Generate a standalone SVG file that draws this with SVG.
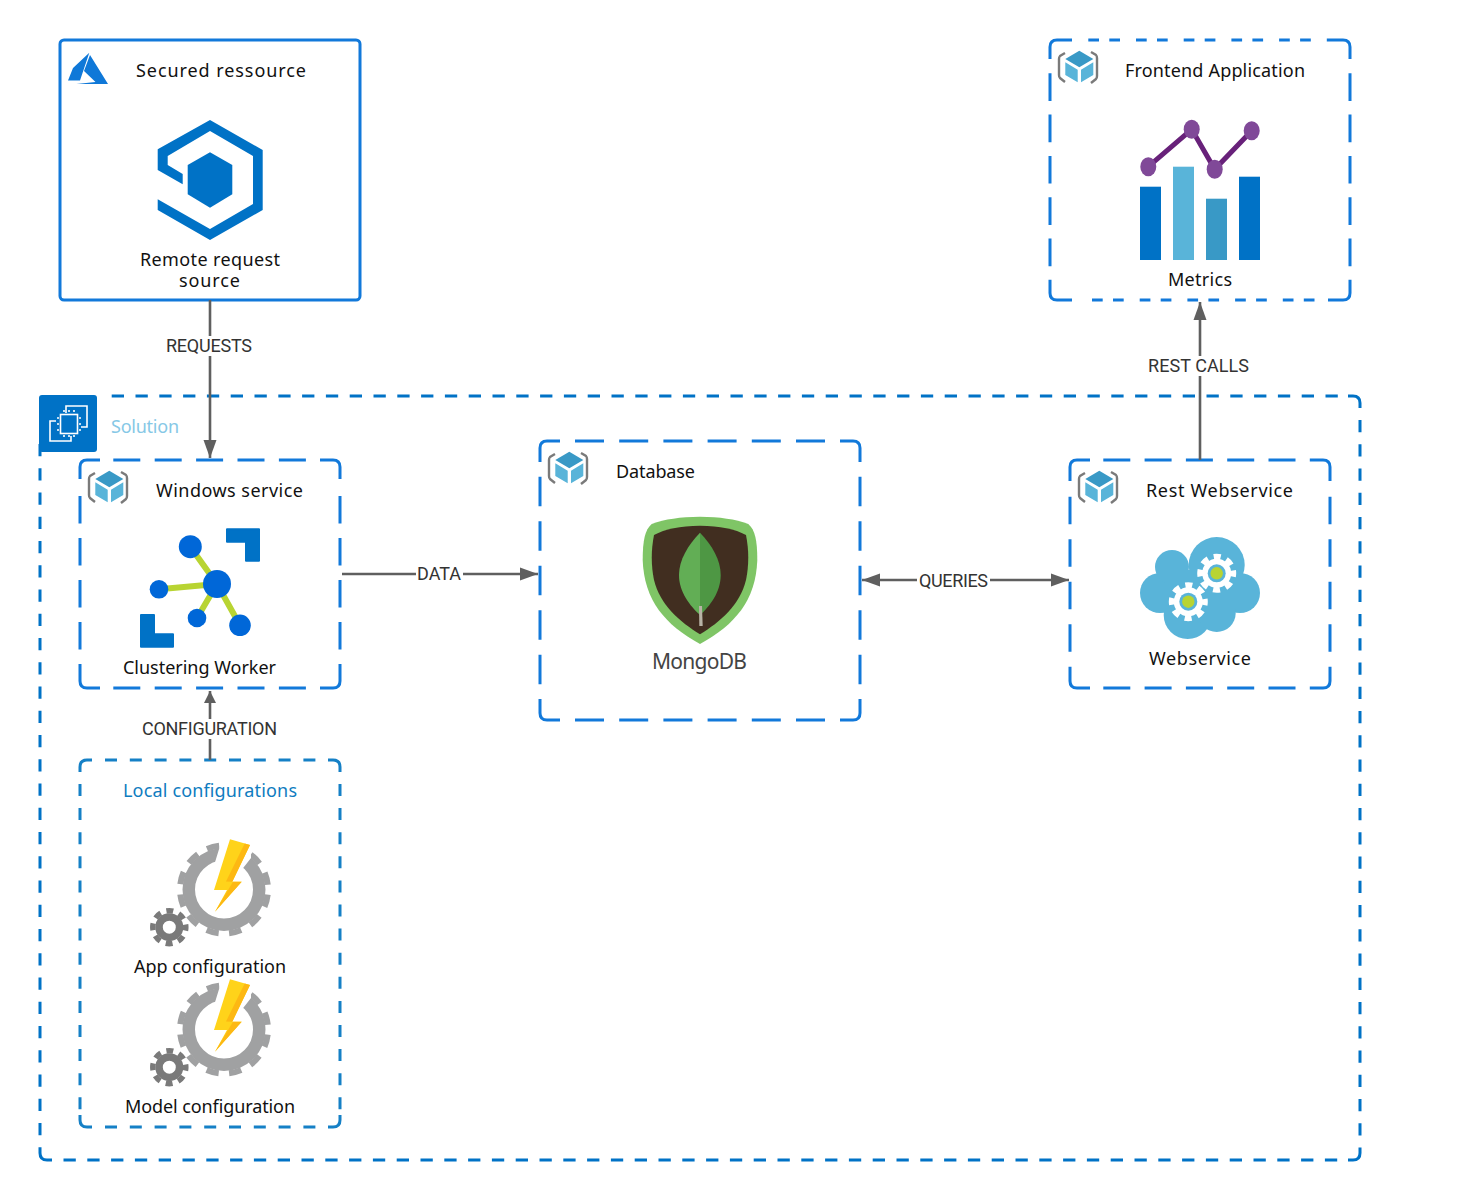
<svg xmlns="http://www.w3.org/2000/svg" width="1471" height="1200" viewBox="0 0 1471 1200">
<style>
.frame{fill:none;stroke:#1279da;stroke-width:3}
.outer{stroke:#0072c6}
.loc{stroke:#1580c6}
.t{font-family:"Noto Sans","Liberation Sans",sans-serif;font-size:18px;fill:#111}
.e{font-family:"Roboto","Liberation Sans",sans-serif;font-size:18px;fill:#333}
.c{fill:none;stroke:#5f5f5f;stroke-width:2.6}
.b{fill:#0072c6}
.lb{fill:#fff}
</style>
<defs>
<marker id="arr" markerUnits="userSpaceOnUse" markerWidth="20" markerHeight="16" refX="18" refY="8" orient="auto-start-reverse"><path d="M0 1.500L18 8L0 14.500Z" fill="#5f5f5f"/></marker>
<marker id="arrs" markerUnits="userSpaceOnUse" markerWidth="14" markerHeight="14" refX="12" refY="7" orient="auto-start-reverse"><path d="M0 1L12 7L0 13Z" fill="#5f5f5f"/></marker>
<g id="cube">
<path d="M7 2L2 5Q1 6 1 8V24Q1 26 2 27L7 31M33 1L38 4Q39 5 39 7V25Q39 27 38 28L33 32" fill="none" stroke="#7a7a7a" stroke-width="2.400"/>
<path d="M21.300 -.3L35.300 8L21.300 16.300L7.300 8Z" fill="#3999c6"/>
<path d="M7.300 11.300L19.700 18.700V31.300L7.300 24ZM23 18.700L35.300 11.300V24L23 31.300Z" fill="#59b4d9"/>
</g>
<g id="wgear">
<circle r="14.500" fill="#fff"/>
<circle r="16.500" fill="none" stroke="#fff" stroke-width="6" stroke-dasharray="7 5.960" stroke-dashoffset="3.500"/>
<circle r="9" fill="#59b4d9"/>
<circle r="6.200" fill="#b8d432"/>
</g>
<g id="config">
<circle cx="224" cy="889.500" r="35.250" fill="none" stroke="#a0a1a2" stroke-width="12.500"/>
<circle cx="224" cy="889.500" r="44" fill="none" stroke="#a0a1a2" stroke-width="6" stroke-dasharray="12.500 10.540" stroke-dashoffset="-5.270"/>
<path d="M220 846L212 872L224 890L240 872L251 858V836H222Z" fill="#fff"/>
<circle cx="169.300" cy="927.200" r="10.250" fill="none" stroke="#7a7a7a" stroke-width="7.500"/>
<circle cx="169.300" cy="927.200" r="16.500" fill="none" stroke="#7a7a7a" stroke-width="5.500" stroke-dasharray="7 5.960" stroke-dashoffset="3.500"/>
<path d="M230 839.300L250 845L232.300 881.700L241.700 881.700L215 911.700L227 890L214 890Z" fill="#ffd31a"/>
<path d="M244.700 843.500L250 845L232.300 881.700L241.700 881.700L215 911.700L233 881.700L226 881.500Z" fill="#fdb813"/>
</g>
</defs>

<g id="solution">
<path class="frame outer" d="M1348 396H1353Q1360 396 1360 403V408M1360 1148V1153Q1360 1160 1353 1160H1348M52 1160H47Q40 1160 40 1153V1148"/>
<path class="frame outer" stroke-dasharray="12.300 11.500" d="M111.700 396H1348M63.500 1160H1348"/>
<path class="frame outer" stroke-dasharray="12.300 11.950" d="M1360 420V1148M40 444V1148"/>
<rect x="39" y="395" width="58" height="57" rx="3" class="b"/>
<g fill="none" stroke="#fff" stroke-width="1.600">
<rect x="60.500" y="414.500" width="17" height="19"/>
<path d="M56 421H50V441H71V436M66 413V406H87V427H81"/>
<path d="M64 412v-2M69 412v-2M74 412v-2M64 437v-2M69 437v-2M74 437v-2M57 418h2M57 424h2M57 430h2M79 418h2M79 424h2M79 430h2"/>
</g>
<text class="t" x="111" y="433" textLength="68" style="fill:#86c8e6">Solution</text>
</g>

<g id="secured">
<rect class="frame" x="60" y="40" width="300" height="260" rx="4"/>
<path d="M89.300 52.700L73 68L68 80.500H80ZM90 55L84 71L95.500 82L76.500 84H108Z" fill="#0f78d8"/>
<path class="b" fill-rule="evenodd" d="M210 120L262.700 150V210L210 240L157.700 210V199.300L210 229L253 204V156L210 131L167.700 156V165L182.700 174V184.300L157.700 170V149.300Z"/>
<path class="b" d="M210 152.300L232.300 165V194.300L210 207.700L187.700 194.300V165Z"/>
<text class="t" x="136" y="77" textLength="170">Secured ressource</text>
<text class="t" x="140" y="266" textLength="140">Remote request</text>
<text class="t" x="179" y="287" textLength="61">source</text>
</g>

<g id="frontend">
<path class="frame" d="M1050 59V47Q1050 40 1057 40H1072M1328 40H1343Q1350 40 1350 47V59M1350 281V293Q1350 300 1343 300H1328M1072 300H1057Q1050 300 1050 293V281"/>
<path class="frame" stroke-dasharray="10.700 10.300 10.700 16" d="M1088.300 40H1328M1092 300H1328"/>
<path class="frame" stroke-dasharray="27.700 13.600" d="M1050 73.300V281M1350 73.300V281"/>
<use href="#cube" x="1058" y="51"/>
<rect class="b" x="1140" y="186.700" width="21" height="73.300"/>
<rect x="1173" y="166.700" width="21" height="93.300" fill="#59b4d9"/>
<rect x="1206" y="198.700" width="21" height="61.300" fill="#3999c6"/>
<rect class="b" x="1239" y="176.700" width="21" height="83.300"/>
<path d="M1148.300 166.700L1191.700 129.300L1214.700 169.300L1251.700 130.700" fill="none" stroke="#68217a" stroke-width="5"/>
<g fill="#804998"><ellipse cx="1148.300" cy="166.700" rx="8" ry="9.500"/><ellipse cx="1191.700" cy="129.300" rx="8" ry="9.500"/><ellipse cx="1214.700" cy="169.300" rx="8" ry="9.500"/><ellipse cx="1251.700" cy="130.700" rx="8" ry="9.500"/></g>
<text class="t" x="1125" y="77" textLength="180">Frontend Application</text>
<text class="t" x="1168" y="286" textLength="64">Metrics</text>
</g>

<g id="windows">
<path class="frame" d="M80 479V467Q80 460 87 460H100M320 460H333Q340 460 340 467V479M340 667V681Q340 688 333 688H320M100 688H87Q80 688 80 681V667"/>
<path class="frame" stroke-dasharray="27 14.400" d="M113.300 460H320M113.300 688H320"/>
<path class="frame" stroke-dasharray="27.500 14.500" d="M80 496V667M340 496V667"/>
<use href="#cube" x="88" y="471"/>
<path d="M190.300 546.700L217 584L159 589.300M217 584L197 618M217 584L240 625.300" fill="none" stroke="#b8d432" stroke-width="6"/>
<g fill="#0067d8"><circle cx="217" cy="584" r="14"/><circle cx="190.300" cy="546.700" r="11.500"/><circle cx="159" cy="589.300" r="9.300"/><circle cx="197" cy="618" r="9.300"/><circle cx="240" cy="625.300" r="10.800"/></g>
<path class="b" stroke="#0072c6" stroke-width="2" stroke-linejoin="round" d="M227 529.300H259V560.700H246V541.700H227ZM141 615H154V634.300H173V646.700H141Z"/>
<text class="t" x="156" y="497" textLength="147">Windows service</text>
<text class="t" x="123" y="674" textLength="153">Clustering Worker</text>
</g>

<g id="database">
<path class="frame" d="M540 462V448Q540 441 547 441H560M840 441H853Q860 441 860 448V462M860 699V713Q860 720 853 720H840M560 720H547Q540 720 540 713V699"/>
<path class="frame" stroke-dasharray="29 15.200" d="M575 441H840M575 720H840"/>
<path class="frame" stroke-dasharray="29.500 15" d="M540 476.700V699M860 476.700V699"/>
<use href="#cube" x="548" y="452"/>
<path d="M700 516.700C680 517 665 519 651.700 524C645 530 642.700 540 642.700 560C644 600 665 625 700 644C735 625 756 600 757.300 560C757.300 540 755 530 748.300 524C735 519 720 517 700 516.700Z" fill="#7fc566"/>
<path d="M700 525.700C680 526 665 529 654 535C651 550 651 565 654 580C660 605 680 622 700 634.300C720 622 740 605 746 580C749 565 749 550 746 535C735 529 720 526 700 525.700Z" fill="#412e20"/>
<path d="M700 532.700C688 545 679 560 679 575C679 592 690 606 700 615Z" fill="#62ae55"/>
<path d="M700 532.700C712 545 720.700 560 720.700 575C720.700 592 710 606 700 615Z" fill="#4e9744"/>
<path d="M699 606L702 606L702.700 626H699.300Z" fill="#b8b4a6"/>
<text class="t" x="616" y="478" textLength="79">Database</text>
<text class="t" x="652" y="669" textLength="95" style="font-size:21px;fill:#444">MongoDB</text>
</g>

<g id="rest">
<path class="frame" d="M1070 481V467Q1070 460 1077 460H1090M1310 460H1323Q1330 460 1330 467V481M1330 668V681Q1330 688 1323 688H1310M1090 688H1077Q1070 688 1070 681V668"/>
<path class="frame" stroke-dasharray="27 14.300" d="M1103.300 460H1310M1103.300 688H1310"/>
<path class="frame" stroke-dasharray="27.500 15" d="M1070 496.700V668M1330 496.700V668"/>
<use href="#cube" x="1078" y="471"/>
<g fill="#59b4d9"><circle cx="1187.700" cy="615" r="24"/><circle cx="1216.700" cy="565" r="28"/><circle cx="1160" cy="593" r="20"/><circle cx="1240" cy="593" r="20"/><circle cx="1172" cy="567" r="17"/><circle cx="1216.700" cy="613" r="19"/><rect x="1165" y="570" width="70" height="42"/></g>
<use href="#wgear" x="1216.700" y="573.300"/>
<use href="#wgear" x="1188.300" y="601.700"/>
<text class="t" x="1146" y="497" textLength="147">Rest Webservice</text>
<text class="t" x="1149" y="665" textLength="102">Webservice</text>
</g>

<g id="local">
<path class="frame loc" d="M80 772V767Q80 760 87 760H92M328 760H333Q340 760 340 767V772M340 1115V1120Q340 1127 333 1127H328M92 1127H87Q80 1127 80 1120V1115"/>
<path class="frame loc" stroke-dasharray="12 12.800" d="M105 760H328M105 1127H328"/>
<path class="frame loc" stroke-dasharray="12 12.100" d="M80 784V1115M340 784V1115"/>
<text class="t" x="123" y="797" textLength="174" style="fill:#0f7cc0">Local configurations</text>
</g>

<g id="app-config">
<use href="#config"/>
<text class="t" x="134" y="973" textLength="152">App configuration</text>
</g>
<g id="model-config">
<use href="#config" y="140"/>
<text class="t" x="125" y="1113" textLength="170">Model configuration</text>
</g>

<g id="connectors">
<path class="c" d="M210 300V458" marker-end="url(#arr)"/>
<rect class="lb" x="164" y="336" width="90" height="20"/>
<text class="e" x="166" y="352" textLength="86">REQUESTS</text>
<path class="c" d="M1200 460V302" marker-end="url(#arr)"/>
<rect class="lb" x="1146" y="356" width="105" height="20"/>
<text class="e" x="1148" y="372" textLength="101">REST CALLS</text>
<path class="c" d="M342 574H538" marker-end="url(#arr)"/>
<rect class="lb" x="416" y="564" width="47" height="20"/>
<text class="e" x="417" y="580" textLength="44">DATA</text>
<path class="c" d="M862 580H1069" marker-start="url(#arr)" marker-end="url(#arr)"/>
<rect class="lb" x="917" y="571" width="73" height="20"/>
<text class="e" x="919" y="587" textLength="69">QUERIES</text>
<path class="c" d="M210 760V691" marker-end="url(#arrs)"/>
<rect class="lb" x="140" y="719" width="139" height="20"/>
<text class="e" x="142" y="735" textLength="135">CONFIGURATION</text>
</g>
</svg>
